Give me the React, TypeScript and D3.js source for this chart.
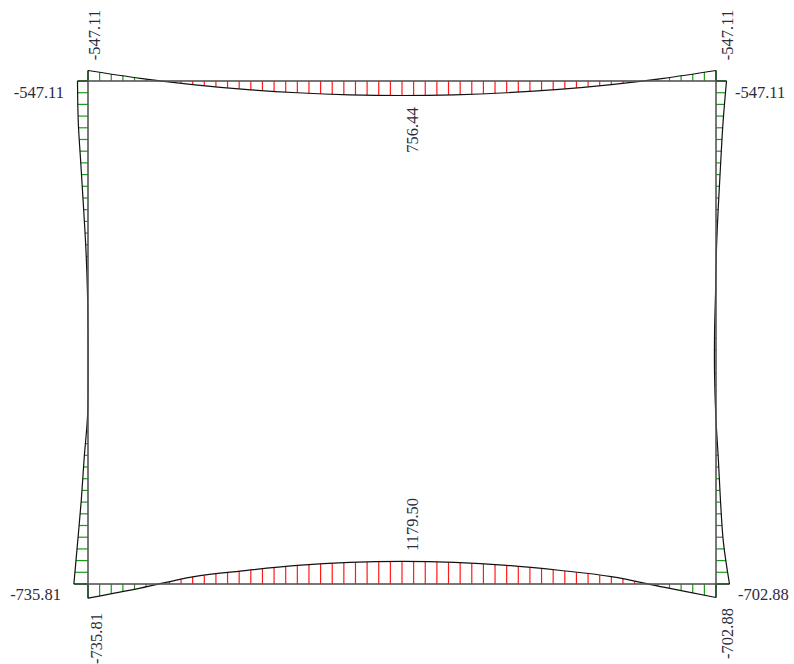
import React from 'react';
import * as d3 from 'd3';

// frame size (m) and moment values, 12 equal segments per member
const span = 6.0;
const rise = 4.8;
const topBeam = [-547.11, -140, 185, 435, 612, 720, 756.44, 720, 612, 435, 185, -140, -547.11];
const bottomBeam = [-735.81, -215, 375, 700, 965, 1125, 1179.5, 1130, 975, 715, 385, -165, -702.88];
const leftWall = [-547.11, -505, -370, -235, -110, -30, 0, 5, -25, -200, -350, -540, -735.81];
const rightWall = [-547.11, -365, -238, -120, -25, 20, 75, 75, 10, -120, -232, -385, -702.88];

const endLabels = [
  { text: '-547.11', x: 64, y: 98, rot: false, anchor: 'end' },
  { text: '-547.11', x: 100, y: 35, rot: true, anchor: 'middle' },
  { text: '-547.11', x: 735, y: 98, rot: false, anchor: 'start' },
  { text: '-547.11', x: 733, y: 35, rot: true, anchor: 'middle' },
  { text: '756.44', x: 418, y: 130, rot: true, anchor: 'middle' },
  { text: '1179.50', x: 418, y: 551, rot: true, anchor: 'start' },
  { text: '-735.81', x: 61, y: 600, rot: false, anchor: 'end' },
  { text: '-735.81', x: 102, y: 613, rot: true, anchor: 'end' },
  { text: '-702.88', x: 738, y: 600, rot: false, anchor: 'start' },
  { text: '-702.88', x: 733, y: 608, rot: true, anchor: 'end' },
];

const W = 794;
const H = 664;

const xScale = d3.scaleLinear().domain([0, span]).range([88, 716]);
const yScale = d3.scaleLinear().domain([0, rise]).range([81, 584]);
const mScale = d3.scaleLinear().domain([0, 1000]).range([0, 19.2]);

const members = [
  { values: topBeam, len: span, hatches: 54, base: (s) => [xScale(s), yScale(0)], dir: [0, 1] },
  { values: bottomBeam, len: span, hatches: 54, base: (s) => [xScale(s), yScale(rise)], dir: [0, -1] },
  { values: leftWall, len: rise, hatches: 43, base: (s) => [xScale(0), yScale(s)], dir: [1, 0] },
  { values: rightWall, len: rise, hatches: 43, base: (s) => [xScale(span), yScale(s)], dir: [-1, 0] },
];

const curve = d3.line().curve(d3.curveCatmullRom.alpha(0.5));

function Member({ m }) {
  const stations = m.values.map((_, i) => (i * m.len) / (m.values.length - 1));
  const interp = d3.scaleLinear().domain(stations).range(m.values);
  const off = (s, v) => {
    const [bx, by] = m.base(s);
    const d = mScale(v);
    return [bx + m.dir[0] * d, by + m.dir[1] * d];
  };
  const pts = stations.map((s, i) => off(s, m.values[i]));
  const hatches = d3.range(m.hatches + 1).map((k) => {
    const s = (k * m.len) / m.hatches;
    const v = interp(s);
    return { p0: m.base(s), p1: off(s, v), v };
  });
  const b0 = m.base(0);
  const b1 = m.base(m.len);
  return (
    <g>
      {hatches
        .filter((h) => Math.abs(mScale(h.v)) > 0.6)
        .map((h, i) => (
          <line
            key={i}
            x1={h.p0[0]}
            y1={h.p0[1]}
            x2={h.p1[0]}
            y2={h.p1[1]}
            stroke={h.v > 0 ? '#ff1a1a' : '#1a9a1a'}
            strokeWidth={1.2}
          />
        ))}
      <path d={curve(pts)} fill="none" stroke="#111" strokeWidth={1.2} />
      <line x1={b0[0]} y1={b0[1]} x2={pts[0][0]} y2={pts[0][1]} stroke="#111" strokeWidth={1.2} />
      <line x1={b1[0]} y1={b1[1]} x2={pts[pts.length - 1][0]} y2={pts[pts.length - 1][1]} stroke="#111" strokeWidth={1.2} />
    </g>
  );
}

export default function App() {
  return (
    <svg
      width={W}
      height={H}
      style={{ position: 'absolute', left: 0, top: 0, background: '#fff' }}
    >
      {members.map((m, i) => (
        <Member key={i} m={m} />
      ))}
      {/* frame */}
      <rect
        x={xScale(0)}
        y={yScale(0)}
        width={xScale(span) - xScale(0)}
        height={yScale(rise) - yScale(0)}
        fill="none"
        stroke="#555"
        strokeWidth={1.6}
      />
      {endLabels.map((l, i) => (
        <text
          key={i}
          transform={l.rot ? `translate(${l.x},${l.y}) rotate(-90)` : `translate(${l.x},${l.y})`}
          textAnchor={l.anchor}
          fontFamily="'Liberation Serif', 'Times New Roman', serif"
          fontSize={16.5}
          fill="#2b2b3b"
        >
          {l.text}
        </text>
      ))}
    </svg>
  );
}
